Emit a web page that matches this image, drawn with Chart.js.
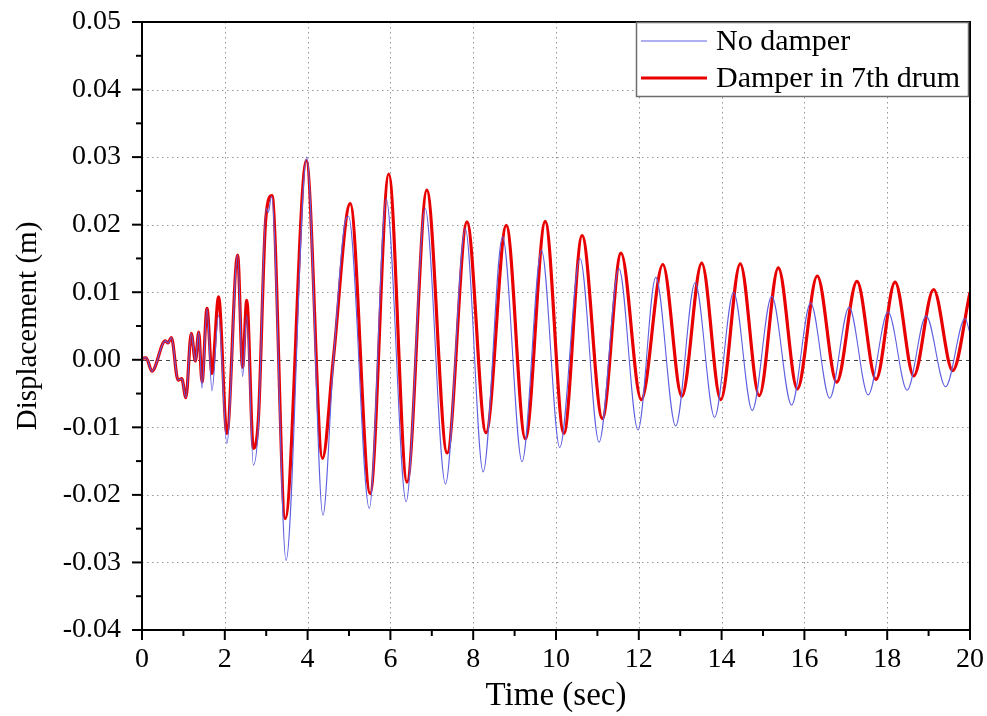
<!DOCTYPE html>
<html>
<head>
<meta charset="utf-8">
<script src="https://cdn.jsdelivr.net/npm/chart.js@4/dist/chart.umd.min.js"></script>
<style>
  html, body { margin: 0; padding: 0; background: #ffffff; }
  #wrap { width: 987px; height: 716px; }
</style>
</head>
<body>
<div id="wrap"><canvas id="c" width="987" height="716"></canvas></div>
<script>
// ---- Data ----
const damperTime = [0, 0.1, 0.24, 0.56, 0.63, 0.71, 0.87, 0.96, 1.06, 1.19, 1.29, 1.37, 1.45, 1.57, 1.69, 1.85, 2.05, 2.31, 2.43, 2.53, 2.69, 2.81, 2.99, 3.14, 3.46, 3.97, 4.36, 4.62, 5.03, 5.51, 5.96, 6.40, 6.88, 7.37, 7.85, 8.31, 8.80, 9.26, 9.74, 10.19, 10.63, 11.12, 11.57, 12.06, 12.58, 13.04, 13.52, 13.98, 14.45, 14.91, 15.37, 15.83, 16.31, 16.78, 17.27, 17.73, 18.19, 18.64, 19.12, 19.58, 20.0];
const damperDisp = [0.0002, 0.0003, -0.0017, 0.0028, 0.0025, 0.0033, -0.0030, -0.0028, -0.0056, 0.0039, -0.0002, 0.0041, -0.0033, 0.0076, -0.0020, 0.0093, -0.0109, 0.0155, -0.0011, 0.0088, -0.0131, -0.0089, 0.0209, 0.0243, -0.0235, 0.0295, -0.0146, 0.0000, 0.0231, -0.0198, 0.0275, -0.0181, 0.0251, -0.0138, 0.0204, -0.0108, 0.0199, -0.0117, 0.0205, -0.0109, 0.0184, -0.0087, 0.0158, -0.0059, 0.0141, -0.0054, 0.0143, -0.0059, 0.0142, -0.0053, 0.0136, -0.0043, 0.0124, -0.0033, 0.0116, -0.0029, 0.0115, -0.0024, 0.0104, -0.0016, 0.0100];

const noDamperTime = [0, 0.1, 0.24, 0.56, 0.63, 0.71, 0.87, 0.96, 1.06, 1.19, 1.29, 1.37, 1.45, 1.57, 1.69, 1.85, 2.05, 2.31, 2.43, 2.53, 2.69, 2.81, 3.00, 3.05, 3.13, 3.48, 3.98, 4.37, 4.62, 4.89, 4.99, 5.49, 5.90, 6.38, 6.84, 7.33, 7.81, 8.24, 8.71, 9.18, 9.65, 10.09, 10.58, 11.04, 11.52, 11.98, 12.41, 12.89, 13.36, 13.83, 14.29, 14.74, 15.21, 15.69, 16.15, 16.61, 17.08, 17.54, 18.02, 18.48, 18.94, 19.41, 19.88, 20.0];
const noDamperDisp = [0.0002, 0.0003, -0.0017, 0.0028, 0.0025, 0.0033, -0.0030, -0.0028, -0.0056, 0.0039, -0.0002, 0.0041, -0.0042, 0.0076, -0.0046, 0.0066, -0.0124, 0.0155, -0.0025, 0.0066, -0.0156, -0.0100, 0.0224, 0.0218, 0.0242, -0.0297, 0.0300, -0.0230, -0.0005, 0.0199, 0.0212, -0.0220, 0.0238, -0.0210, 0.0224, -0.0184, 0.0194, -0.0166, 0.0182, -0.0151, 0.0162, -0.0130, 0.0150, -0.0122, 0.0135, -0.0104, 0.0122, -0.0098, 0.0114, -0.0085, 0.0100, -0.0075, 0.0094, -0.0067, 0.0084, -0.0057, 0.0078, -0.0052, 0.0071, -0.0045, 0.0065, -0.0040, 0.0061, 0.0039];

const seriesLabels = ['No damper', 'Damper in 7th drum'];
const xTicks = [0, 2, 4, 6, 8, 10, 12, 14, 16, 18, 20];
const yTicks = [-0.04, -0.03, -0.02, -0.01, 0.00, 0.01, 0.02, 0.03, 0.04, 0.05];

const FONT = '"Liberation Serif", "Times New Roman", serif';
const toXY = (ts, vs) => ts.map((t, i) => ({ x: t, y: vs[i] }));

// Grid, frame, ticks and legend drawn through the scales
const framePlugin = {
  id: 'frame',
  beforeDatasetsDraw(chart) {
    const { ctx, chartArea: a, scales: { x, y } } = chart;
    ctx.save();
    ctx.lineWidth = 1;
    ctx.strokeStyle = 'rgb(150,150,150)';
    ctx.setLineDash([1.5, 3.5]);
    xTicks.forEach(v => {
      if (v === 0 || v === 20) return;
      const px = Math.round(x.getPixelForValue(v)) + 0.5;
      ctx.beginPath(); ctx.moveTo(px, a.top); ctx.lineTo(px, a.bottom); ctx.stroke();
    });
    yTicks.forEach(v => {
      if (Math.abs(v) < 1e-9 || v <= -0.04 || v >= 0.05) return;
      const py = Math.round(y.getPixelForValue(v)) + 0.5;
      ctx.beginPath(); ctx.moveTo(a.left, py); ctx.lineTo(a.right, py); ctx.stroke();
    });
    // zero line dashed
    ctx.strokeStyle = 'rgb(70,70,70)';
    ctx.setLineDash([4, 4]);
    const pz = Math.round(y.getPixelForValue(0)) + 0.5;
    ctx.beginPath(); ctx.moveTo(a.left, pz); ctx.lineTo(a.right, pz); ctx.stroke();
    ctx.restore();
  },
  afterDatasetsDraw(chart) {
    const { ctx, chartArea: a, scales: { x, y } } = chart;
    ctx.save();
    ctx.strokeStyle = '#000';
    ctx.lineWidth = 2;
    ctx.setLineDash([]);
    ctx.strokeRect(a.left, a.top, a.right - a.left, a.bottom - a.top);
    // x ticks: major every 2, minor every 1
    for (let v = 0; v <= 20; v += 1) {
      const px = x.getPixelForValue(v);
      const len = (v % 2 === 0) ? 10 : 6;
      ctx.beginPath(); ctx.moveTo(px, a.bottom); ctx.lineTo(px, a.bottom + len); ctx.stroke();
    }
    // y ticks: major 0.01, minor 0.005
    for (let k = -8; k <= 10; k++) {
      const v = k * 0.005;
      const py = y.getPixelForValue(v);
      const len = (k % 2 === 0) ? 10 : 6;
      ctx.beginPath(); ctx.moveTo(a.left, py); ctx.lineTo(a.left - len, py); ctx.stroke();
    }
    ctx.restore();
  },
  afterDraw(chart) {
    const { ctx, chartArea: a } = chart;
    const bw = 332, bh = 74;
    const bx = a.right - bw - 2, by = a.top;
    ctx.save();
    ctx.fillStyle = '#fff';
    ctx.fillRect(bx, by, bw, bh);
    ctx.strokeStyle = 'rgb(110,110,110)';
    ctx.lineWidth = 1.5;
    ctx.strokeRect(bx + 0.5, by + 0.5, bw, bh);
    ctx.font = '30px ' + FONT;
    ctx.fillStyle = '#000';
    ctx.textBaseline = 'middle';
    const rows = [by + 19, by + 56];
    chart.data.datasets.forEach((ds, i) => {
      ctx.strokeStyle = ds.borderColor;
      ctx.lineWidth = ds.borderWidth;
      ctx.beginPath(); ctx.moveTo(bx + 5, rows[i]); ctx.lineTo(bx + 71, rows[i]); ctx.stroke();
      ctx.fillText(ds.label, bx + 80, rows[i] + 1);
    });
    ctx.restore();
  }
};

new Chart(document.getElementById('c'), {
  type: 'line',
  data: {
    datasets: [
      {
        label: seriesLabels[0],
        data: toXY(noDamperTime, noDamperDisp),
        borderColor: 'rgb(95,95,225)',
        borderWidth: 1.1,
        pointRadius: 0,
        cubicInterpolationMode: 'monotone',
        fill: false
      },
      {
        label: seriesLabels[1],
        data: toXY(damperTime, damperDisp),
        borderColor: 'rgb(232,0,0)',
        borderWidth: 3.2,
        pointRadius: 0,
        cubicInterpolationMode: 'monotone',
        fill: false
      }
    ]
  },
  options: {
    responsive: false,
    animation: false,
    layout: { padding: { top: 22, right: 17, left: 0, bottom: 0 } },
    plugins: { legend: { display: false }, tooltip: { enabled: false } },
    scales: {
      x: {
        type: 'linear',
        min: 0, max: 20,
        afterFit(s) { s.height = 86; s.paddingLeft = 0; s.paddingRight = 0; },
        afterBuildTicks(s) { s.ticks = xTicks.map(v => ({ value: v })); },
        grid: { display: false, drawTicks: false },
        border: { display: false },
        ticks: { color: '#000', padding: 13, maxRotation: 0, font: { family: FONT, size: 28 } },
        title: { display: true, text: 'Time (sec)', color: '#000', padding: { top: 6, bottom: 0 }, font: { family: FONT, size: 33 } }
      },
      y: {
        type: 'linear',
        min: -0.04, max: 0.05,
        afterFit(s) { s.width = 142; s.paddingTop = 0; s.paddingBottom = 0; },
        afterBuildTicks(s) { s.ticks = yTicks.map(v => ({ value: v })); },
        grid: { display: false, drawTicks: false },
        border: { display: false },
        ticks: { color: '#000', padding: 21, font: { family: FONT, size: 28 }, callback: v => Number(v).toFixed(2) },
        title: { display: true, text: 'Displacement (m)', color: '#000', padding: { top: 11, bottom: 0 }, font: { family: FONT, size: 29 } }
      }
    }
  },
  plugins: [framePlugin]
});
</script>
</body>
</html>
